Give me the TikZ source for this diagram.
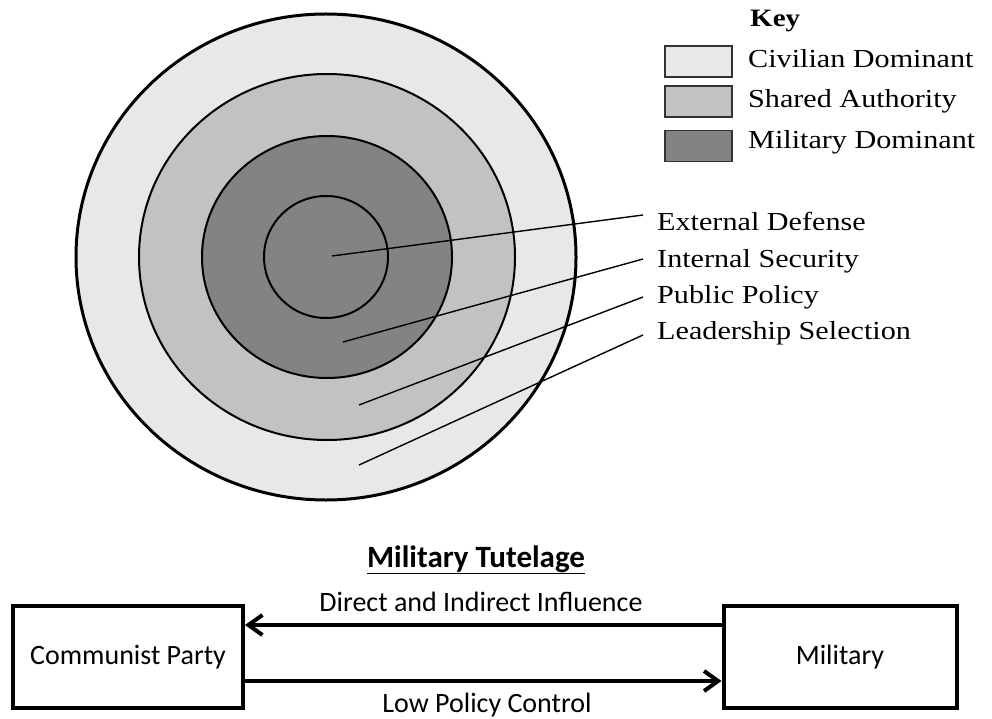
\documentclass[tikz,border=0pt]{standalone}
\usepackage{fontspec}
\usetikzlibrary{arrows.meta}
\newfontfamily\keyfont[FakeStretch=1.16]{Liberation Serif}
\newfontfamily\calfont{Carlito}
\definecolor{civ}{HTML}{E8E8E8}
\definecolor{shr}{HTML}{C2C2C2}
\definecolor{mil}{HTML}{838383}
\begin{document}
\begin{tikzpicture}[x=1pt,y=-1pt,
  ring/.style={draw=black, line width=2pt},
  lead/.style={draw=black, line width=1.4pt},
  keybox/.style={draw=black!80, line width=1.5pt, minimum width=67pt, minimum height=31pt, inner sep=0pt},
  serlab/.style={font=\keyfont\fontsize{26}{30}\selectfont, anchor=base west, inner sep=0pt},
  actor/.style={draw, line width=4pt, minimum width=230pt, minimum height=102pt, font=\calfont\fontsize{28}{32}\selectfont},
  flow/.style={line width=4pt, -{Straight Barb[length=14pt,width=20pt]}},
  flowlab/.style={font=\calfont\fontsize{28}{32}\selectfont, anchor=base, inner sep=0pt}
]
\useasboundingbox (0,0) rectangle (992,719);
\fill[white] (0,0) rectangle (992,719);
% concentric rings
\filldraw[fill=civ, draw=black, line width=3pt] (326,257) ellipse [x radius=250pt, y radius=243pt];
\filldraw[fill=shr, ring] (327,257) ellipse [x radius=188pt, y radius=183pt];
\filldraw[fill=mil, ring] (327,257) ellipse [x radius=125pt, y radius=121pt];
\draw[ring] (326,257) ellipse [x radius=62pt, y radius=61pt];
% key
\node[font=\keyfont\bfseries\fontsize{25}{30}\selectfont, anchor=base west, inner sep=0pt] (keyt) at (750,27) {Key};
\node[keybox, fill=civ] (k1) at (698.5,61.5) {};
\node[keybox, fill=shr] (k2) at (698.5,101.5) {};
\node[keybox, fill=mil] (k3) at (698.5,146) {};
\node[serlab] (k1t) at (748,68) {Civilian Dominant};
\node[serlab] (k2t) at (748,108) {Shared Authority};
\node[serlab] (k3t) at (748,149) {Military Dominant};
% ring labels
\node[serlab] (ext) at (657,230) {External Defense};
\node[serlab] (int) at (657,267) {Internal Security};
\node[serlab] (pub) at (657,303) {Public Policy};
\node[serlab] (lead) at (657,339) {Leadership Selection};
\coordinate (s1) at (332,256);
\coordinate (s2) at (343,342);
\coordinate (s3) at (359,405);
\coordinate (s4) at (359,465);
\coordinate (e1) at (643,215);
\coordinate (e2) at (643,259);
\coordinate (e3) at (643,297);
\coordinate (e4) at (643,335);
\draw[lead] (s1) -- (e1);
\draw[lead] (s2) -- (e2);
\draw[lead] (s3) -- (e3);
\draw[lead] (s4) -- (e4);
% military tutelage
\node[font=\calfont\bfseries\fontsize{31}{36}\selectfont, anchor=base, inner sep=0pt] (title) at (476,567) {\underline{Military Tutelage}};
\node[actor] (cp) at (128,657) {Communist Party};
\node[actor, minimum width=233pt] (mil) at (840,657) {Military};
\draw[flow] ([yshift=32pt]mil.west) -- ([yshift=32pt]cp.east);
\draw[flow] ([yshift=-24pt]cp.east) -- ([yshift=-24pt]mil.west);
\node[flowlab] (dil) at (481,611) {Direct and Indirect Influence};
\node[flowlab] (lpc) at (487,712) {Low Policy Control};
\end{tikzpicture}
\end{document}
